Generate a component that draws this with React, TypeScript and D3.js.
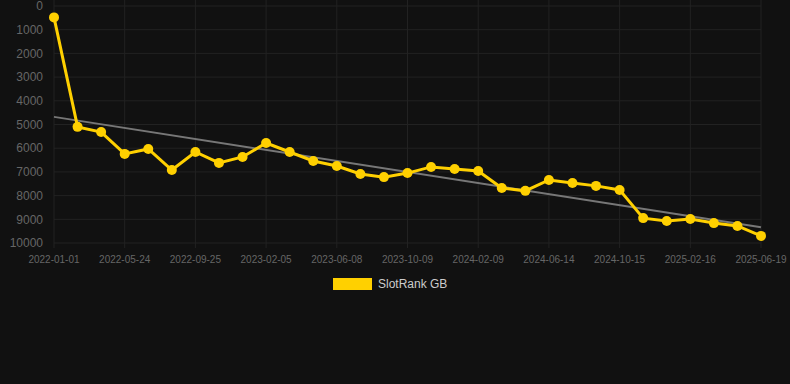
import React, { useEffect } from "react";
import * as d3 from "d3";

const dates = [
  "2022-01-01", "2022-02-18", "2022-04-06", "2022-05-24", "2022-07-04", "2022-08-14",
  "2022-09-25", "2022-11-15", "2022-12-26", "2023-02-05", "2023-03-17", "2023-04-28",
  "2023-06-08", "2023-07-19", "2023-08-29", "2023-10-09", "2023-11-19", "2023-12-30",
  "2024-02-09", "2024-03-21", "2024-05-03", "2024-06-14", "2024-07-25", "2024-09-04",
  "2024-10-15", "2024-11-25", "2025-01-05", "2025-02-16", "2025-03-29", "2025-05-09",
  "2025-06-19",
];
const ranks = [
  480, 5100, 5320, 6240, 6030, 6920, 6160, 6620, 6370, 5780, 6160, 6540, 6750, 7090,
  7220, 7050, 6790, 6880, 6960, 7680, 7800, 7340, 7470, 7590, 7760, 8950, 9070, 8990,
  9160, 9280, 9700,
];
const yTicks = [0, 1000, 2000, 3000, 4000, 5000, 6000, 7000, 8000, 9000, 10000];
const seriesName = "SlotRank GB";

const W = 790;
const H = 384;
const left = 54;
const right = 761;
const top = 6;
const bottom = 243;

export default function App() {
  useEffect(() => {
    document.body.style.margin = "0";
    document.body.style.background = "#111111";
  }, []);

  const x = d3.scalePoint<string>().domain(dates).range([left, right]);
  const y = d3.scaleLinear().domain([0, 10000]).range([top, bottom]);

  // linear regression on index
  const n = ranks.length;
  const mx = (n - 1) / 2;
  const my = d3.mean(ranks) as number;
  let sxy = 0;
  let sxx = 0;
  ranks.forEach((v, i) => {
    sxy += (i - mx) * (v - my);
    sxx += (i - mx) * (i - mx);
  });
  const slope = sxy / sxx;
  const intercept = my - slope * mx;
  const t0 = intercept;
  const t1 = intercept + slope * (n - 1);

  const line = d3
    .line<number>()
    .x((_, i) => x(dates[i]) as number)
    .y((d) => y(d));

  const labeled = dates.filter((_, i) => i % 3 === 0);
  const font = "Arial, 'Liberation Sans', Helvetica, sans-serif";

  return (
    <svg width={W} height={H} style={{ display: "block", background: "#111111" }}>
      <rect x={0} y={0} width={W} height={H} fill="#111111" />
      {yTicks.map((t) => (
        <g key={t}>
          <line x1={left} x2={right} y1={y(t)} y2={y(t)} stroke="#222222" strokeWidth={1} />
          <text
            x={43}
            y={y(t)}
            dy="0.35em"
            textAnchor="end"
            fill="#666666"
            fontSize={12}
            fontFamily={font}
          >
            {t}
          </text>
        </g>
      ))}
      {labeled.map((d) => (
        <g key={d}>
          <line
            x1={x(d)}
            x2={x(d)}
            y1={top - 6}
            y2={bottom + 5}
            stroke="#222222"
            strokeWidth={1}
          />
          <text
            x={x(d)}
            y={259}
            dy="0.35em"
            textAnchor="middle"
            fill="#666666"
            fontSize={10}
            fontFamily={font}
          >
            {d}
          </text>
        </g>
      ))}
      <line
        x1={x(dates[0])}
        x2={x(dates[n - 1])}
        y1={y(t0)}
        y2={y(t1)}
        stroke="#777777"
        strokeWidth={2}
      />
      <path d={line(ranks) || ""} fill="none" stroke="#ffd000" strokeWidth={3} />
      {ranks.map((v, i) => (
        <circle key={i} cx={x(dates[i])} cy={y(v)} r={5} fill="#ffd000" />
      ))}
      <rect x={333} y={278} width={39} height={12} fill="#ffd000" />
      <text x={378} y={284} dy="0.35em" fill="#cccccc" fontSize={12} fontFamily={font}>
        {seriesName}
      </text>
    </svg>
  );
}
